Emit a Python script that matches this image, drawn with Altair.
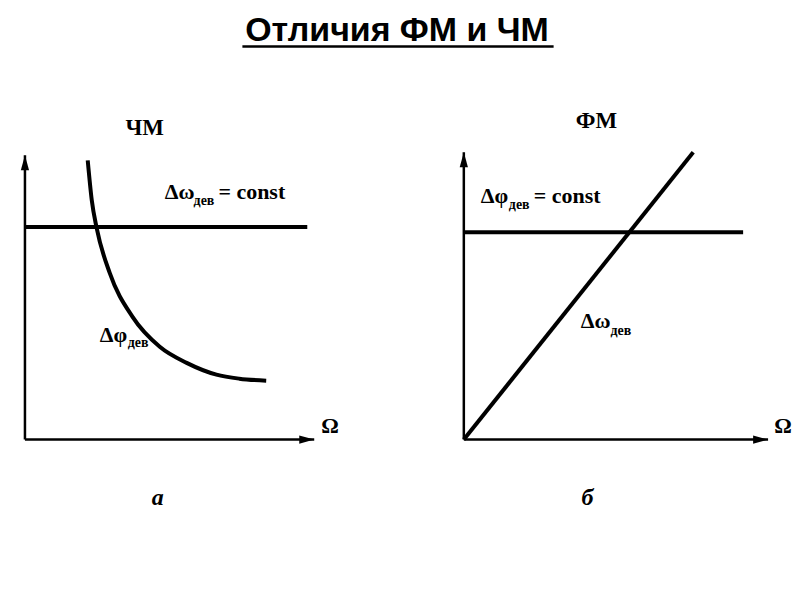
import altair as alt
import pandas as pd

# ---------------- data ----------------
title_text = "Отличия ФМ и ЧМ"

# Left panel: ЧМ (frequency modulation)
chm_curve_x = [0.217, 0.231, 0.248, 0.293, 0.372, 0.466, 0.559, 0.662, 0.741, 0.834]
chm_curve_y = [0.972, 0.833, 0.736, 0.580, 0.427, 0.323, 0.267, 0.226, 0.212, 0.205]
chm_const_level = 0.74
chm_const_end = 0.976
chm_axis_x_end = 1.0
chm_axis_y_end = 0.99

# Right panel: ФМ (phase modulation)
fm_line_x = [0.0, 0.754]
fm_line_y = [0.0, 1.0]
fm_const_level = 0.722
fm_const_end = 0.918
fm_axis_x_end = 1.0
fm_axis_y_end = 1.0

# label anchors (data units of each panel)
chm_main_labels = [("Δω", 0.483, 0.837), ("= const", 0.669, 0.837), ("Δφ", 0.259, 0.340)]
chm_sub_labels = [("дев", 0.583, 0.816), ("дев", 0.355, 0.323)]
chm_title = ("ЧМ", 0.414, 1.059)
chm_omega = ("Ω", 1.024, 0.024)
chm_letter = ("а", 0.438, -0.229)

fm_main_labels = [("Δφ", 0.056, 0.823), ("= const", 0.230, 0.823), ("Δω", 0.384, 0.389)]
fm_sub_labels = [("дев", 0.148, 0.802), ("дев", 0.482, 0.365)]
fm_title = ("ФМ", 0.436, 1.083)
fm_omega = ("Ω", 1.020, 0.024)
fm_letter = ("б", 0.387, -0.229)

# ---------------- styling ----------------
SERIF = "Liberation Serif"
UP = "M0,0 L-0.55,2 L0.55,2 Z"
RIGHT = "M0,0 L-2,-0.55 L-2,0.55 Z"


def lab_df(items):
    return pd.DataFrame(items, columns=["t", "x", "y"])


def panel(width, height, xdom, ydom, curve_x, curve_y, interp, const_level, const_end,
          ax_x_end, ax_y_end, main_labels, sub_labels, ttl, omega, letter):
    X = lambda f: alt.X(f, type="quantitative", scale=alt.Scale(domain=xdom, nice=False, zero=False), axis=None)
    Y = lambda f: alt.Y(f, type="quantitative", scale=alt.Scale(domain=ydom, nice=False, zero=False), axis=None)

    axes_df = pd.DataFrame({"x": [0.0, 0.0], "y": [0.0, 0.0], "x2": [ax_x_end, 0.0], "y2": [0.0, ax_y_end]})
    axes = alt.Chart(axes_df).mark_rule(color="black", strokeWidth=2.5).encode(
        x=X("x"), y=Y("y"), x2="x2", y2="y2")
    up = alt.Chart(pd.DataFrame({"x": [0.0], "y": [ax_y_end]})).mark_point(
        shape=UP, filled=True, size=225, color="black", opacity=1).encode(x=X("x"), y=Y("y"))
    right = alt.Chart(pd.DataFrame({"x": [ax_x_end], "y": [0.0]})).mark_point(
        shape=RIGHT, filled=True, size=225, color="black", opacity=1).encode(x=X("x"), y=Y("y"))

    const = alt.Chart(pd.DataFrame({"x": [0.0], "x2": [const_end], "y": [const_level]})).mark_rule(
        color="black", strokeWidth=4).encode(x=X("x"), x2="x2", y=Y("y"))
    curve = alt.Chart(pd.DataFrame({"x": curve_x, "y": curve_y})).mark_line(
        color="black", strokeWidth=4, interpolate=interp).encode(x=X("x"), y=Y("y"))

    main = alt.Chart(lab_df(main_labels)).mark_text(
        font=SERIF, fontWeight="bold", fontSize=22, align="left", baseline="alphabetic", color="black"
    ).encode(x=X("x"), y=Y("y"), text="t:N")
    sub = alt.Chart(lab_df(sub_labels)).mark_text(
        font=SERIF, fontWeight="bold", fontSize=14, align="left", baseline="alphabetic", color="black"
    ).encode(x=X("x"), y=Y("y"), text="t:N")
    tt = alt.Chart(lab_df([ttl])).mark_text(
        font=SERIF, fontWeight="bold", fontSize=23, align="center", baseline="alphabetic", color="black"
    ).encode(x=X("x"), y=Y("y"), text="t:N")
    om = alt.Chart(lab_df([omega])).mark_text(
        font=SERIF, fontWeight="bold", fontSize=22, align="left", baseline="alphabetic", color="black"
    ).encode(x=X("x"), y=Y("y"), text="t:N")
    let = alt.Chart(lab_df([letter])).mark_text(
        font=SERIF, fontWeight="bold", fontStyle="italic", fontSize=24, align="left",
        baseline="alphabetic", color="black"
    ).encode(x=X("x"), y=Y("y"), text="t:N")

    return alt.layer(axes, up, right, const, curve, main, sub, tt, om, let).properties(
        width=width, height=height)


left = panel(340, 420, [-0.0586, 1.1138], [-0.2778, 1.1806], chm_curve_x, chm_curve_y, "monotone",
             chm_const_level, chm_const_end, chm_axis_x_end, chm_axis_y_end,
             chm_main_labels, chm_sub_labels, chm_title, chm_omega, chm_letter)
right = panel(372, 420, [-0.1475, 1.0721], [-0.2778, 1.1806], fm_line_x, fm_line_y, "linear",
              fm_const_level, fm_const_end, fm_axis_x_end, fm_axis_y_end,
              fm_main_labels, fm_sub_labels, fm_title, fm_omega, fm_letter)

title_src = pd.DataFrame({"t": [title_text]})
title_txt = alt.Chart(title_src).mark_text(
    font="Liberation Sans", fontWeight="bold", fontSize=34, align="center", baseline="alphabetic",
    color="black").encode(x=alt.value(390), y=alt.value(32), text="t:N")
underline = alt.Chart(title_src).mark_rule(color="black", strokeWidth=2.5).encode(
    x=alt.value(235), x2=alt.value(547), y=alt.value(38))
title_panel = alt.layer(title_txt, underline).properties(width=784, height=82)

row = alt.hconcat(left, right, spacing=72)
chart = alt.vconcat(title_panel, row, spacing=10).properties(
    padding={"left": 0, "top": 0, "right": 0, "bottom": 0},
    background="white",
).configure_view(stroke=None)

chart.save("out.html", embed_options={"renderer": "svg", "actions": False})
